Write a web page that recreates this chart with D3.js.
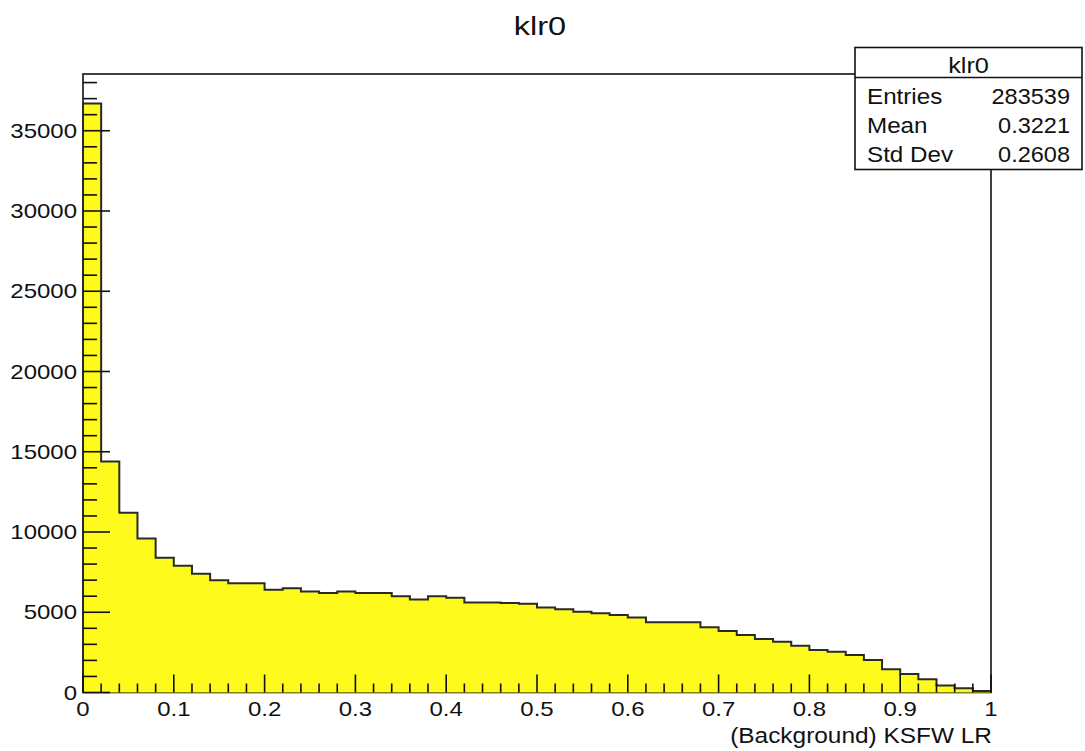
<!DOCTYPE html>
<html>
<head>
<meta charset="utf-8">
<script src="https://cdn.jsdelivr.net/npm/d3@7"></script>
<style>
  body { margin: 0; background: #fff; }
  text { font-family: "Liberation Sans", Arial, Helvetica, sans-serif; fill: #111; }
</style>
</head>
<body>
<script>
// klr0 histogram: 50 bins on [0, 1]
var histName = "klr0";
var xTitle = "(Background) KSFW LR";
var xRange = [0, 1];
var counts = [
  36700, 14400, 11200, 9600, 8400, 7900, 7400, 7000, 6800, 6800,
  6400, 6500, 6300, 6200, 6300, 6200, 6200, 6000, 5800, 6000,
  5900, 5600, 5600, 5570, 5530, 5300, 5180, 5030, 4930, 4830,
  4680, 4370, 4370, 4370, 4060, 3830, 3580, 3330, 3160, 2910,
  2650, 2540, 2340, 2020, 1450, 1150, 820, 430, 260, 90
];
var statLabels = ["Entries", "Mean", "Std Dev"];
var statValues = ["283539", "0.3221", "0.2608"];
var yTickValues = [0, 5000, 10000, 15000, 20000, 25000, 30000, 35000];
var xTickValues = [0, 0.1, 0.2, 0.3, 0.4, 0.5, 0.6, 0.7, 0.8, 0.9, 1];

var width = 1085;
var height = 751;
var frame = {left: 83, right: 991, top: 74, bottom: 692.5};

var svg = d3.select("body").append("svg")
  .attr("width", width)
  .attr("height", height);

// text is drawn a little wider than the font's natural shape
function place(sel, fx, fy, sx) {
  sel.attr("transform", function(d, i) {
    return "translate(" + fx(d, i) + "," + fy(d, i) + ") scale(" + sx + ",1)";
  });
}

var nBins = counts.length;
var binWidth = (xRange[1] - xRange[0]) / nBins;
var bins = counts.map(function(c, i) { return {x: xRange[0] + i * binWidth, n: c}; });
// extra point so the last step runs to the edge
bins.push({x: xRange[1], n: counts[nBins - 1]});

var x = d3.scaleLinear().domain(xRange).range([frame.left, frame.right]);
var y = d3.scaleLinear().domain([0, d3.max(counts) * 1.05]).range([frame.bottom, frame.top]);

// frame
svg.append("rect")
  .attr("x", frame.left)
  .attr("y", frame.top)
  .attr("width", frame.right - frame.left)
  .attr("height", frame.bottom - frame.top)
  .attr("fill", "none")
  .attr("stroke", "#111")
  .attr("stroke-width", 1.6);

// filled histogram
var area = d3.area()
  .curve(d3.curveStepAfter)
  .x(function(d) { return x(d.x); })
  .y0(y(0))
  .y1(function(d) { return y(d.n); });

svg.append("path")
  .datum(bins)
  .attr("d", area)
  .attr("fill", "#fdfa1c");

// outline: up from zero, along the steps, back down to zero
var outline = [{x: xRange[0], n: 0}].concat(bins, [{x: xRange[1], n: 0}]);
var line = d3.line()
  .curve(d3.curveStepAfter)
  .x(function(d) { return x(d.x); })
  .y(function(d) { return y(d.n); });

svg.append("path")
  .datum(outline)
  .attr("d", line)
  .attr("fill", "none")
  .attr("stroke", "#2a2a2a")
  .attr("stroke-width", 2);

// y axis ticks (drawn inward, on top of the fill)
var yMinor = d3.range(0, y.domain()[1], 1000);
svg.append("g").selectAll("line")
  .data(yMinor)
  .enter().append("line")
    .attr("x1", frame.left)
    .attr("x2", function(d) { return frame.left + (d % 5000 === 0 ? 27 : 14); })
    .attr("y1", function(d) { return y(d); })
    .attr("y2", function(d) { return y(d); })
    .attr("stroke", "#111")
    .attr("stroke-width", 1.6);

svg.append("g").selectAll("text")
  .data(yTickValues)
  .enter().append("text")
    .attr("dy", "0.36em")
    .attr("text-anchor", "end")
    .attr("font-size", 20)
    .text(function(d) { return d; })
    .call(place, function() { return frame.left - 6; }, function(d) { return y(d); }, 1.2);

// x axis ticks
var xMinor = d3.range(0, 51).map(function(i) { return i / 50; });
svg.append("g").selectAll("line")
  .data(xMinor)
  .enter().append("line")
    .attr("x1", function(d) { return x(d); })
    .attr("x2", function(d) { return x(d); })
    .attr("y1", frame.bottom)
    .attr("y2", function(d, i) { return frame.bottom - (i % 5 === 0 ? 18 : 9); })
    .attr("stroke", "#111")
    .attr("stroke-width", 1.6);

svg.append("g").selectAll("text")
  .data(xTickValues)
  .enter().append("text")
    .attr("text-anchor", "middle")
    .attr("font-size", 20)
    .text(function(d) { return d3.format("~g")(d); })
    .call(place, function(d) { return x(d); }, function() { return 716; }, 1.2);

// axis title
svg.append("text")
  .datum(xTitle)
  .attr("text-anchor", "end")
  .attr("font-size", 22)
  .text(function(d) { return d; })
  .call(place, function() { return frame.right + 1; }, function() { return 743; }, 1.11);

// histogram title
svg.append("text")
  .datum(histName)
  .attr("text-anchor", "middle")
  .attr("font-size", 26)
  .text(function(d) { return d; })
  .call(place, function() { return 540; }, function() { return 35; }, 1.25);

// statistics box
var box = {x: 855, y: 47.5, w: 227, h: 122, head: 30};
var stats = svg.append("g");
stats.append("rect")
  .attr("x", box.x)
  .attr("y", box.y)
  .attr("width", box.w)
  .attr("height", box.h)
  .attr("fill", "#fff")
  .attr("stroke", "#111")
  .attr("stroke-width", 1.6);
stats.append("line")
  .attr("x1", box.x)
  .attr("x2", box.x + box.w)
  .attr("y1", box.y + box.head)
  .attr("y2", box.y + box.head)
  .attr("stroke", "#111")
  .attr("stroke-width", 1.6);
stats.append("text")
  .datum(histName)
  .attr("text-anchor", "middle")
  .attr("font-size", 22)
  .text(function(d) { return d; })
  .call(place, function() { return box.x + box.w / 2; }, function() { return box.y + 25; }, 1.15);
stats.selectAll("text.lab")
  .data(statLabels)
  .enter().append("text")
    .attr("class", "lab")
    .attr("font-size", 22)
    .text(function(d) { return d; })
    .call(place, function() { return box.x + 12; }, function(d, i) { return box.y + 56 + i * 29; }, 1.1);
stats.selectAll("text.val")
  .data(statValues)
  .enter().append("text")
    .attr("class", "val")
    .attr("text-anchor", "end")
    .attr("font-size", 22)
    .text(function(d) { return d; })
    .call(place, function() { return box.x + box.w - 12; }, function(d, i) { return box.y + 56 + i * 29; }, 1.07);
</script>
</body>
</html>
